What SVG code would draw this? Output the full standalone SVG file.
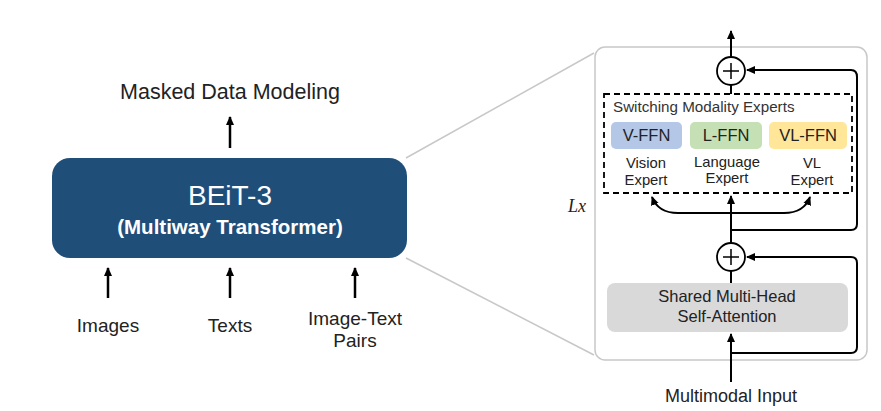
<svg xmlns="http://www.w3.org/2000/svg" width="881" height="411" viewBox="0 0 881 411">
<style>
.t{font-family:"Liberation Sans",Arial,sans-serif;fill:#222;text-anchor:middle}
.ln{fill:none;stroke:#000;stroke-width:2}
.big{fill:none;stroke:#000;stroke-width:2.5}
.gray{fill:none;stroke:#c8c8c8;stroke-width:1.5}
</style>
<defs>
<marker id="ah" markerUnits="userSpaceOnUse" markerWidth="10" markerHeight="10" refX="8" refY="5" orient="auto">
<path d="M0,1 L9,5 L0,9 Z" fill="#000"/>
</marker>
</defs>
<rect width="881" height="411" fill="#fff"/>

<g id="zoom-lines">
<line class="gray" x1="406" y1="158" x2="594" y2="53"/>
<line class="gray" x1="406" y1="258" x2="594" y2="355"/>
</g>

<g id="beit3">
<rect x="52" y="158" width="355" height="100" rx="18" fill="#1f4e79"/>
<text class="t" x="230" y="205" font-size="28" style="fill:#fff">BEiT-3</text>
<text class="t" x="230" y="234" font-size="20.5" font-weight="bold" style="fill:#fff">(Multiway Transformer)</text>
</g>

<g id="mdm"><text class="t" x="230" y="99" font-size="21.5">Masked Data Modeling</text></g>
<g id="images"><text class="t" x="108" y="332" font-size="19">Images</text></g>
<g id="texts"><text class="t" x="230" y="332" font-size="19">Texts</text></g>
<g id="pairs"><text class="t" x="355" y="325" font-size="19">Image-Text</text><text class="t" x="355" y="347" font-size="19">Pairs</text></g>

<g id="panel">
<rect x="595" y="47" width="272" height="313" rx="10" fill="#fff" stroke="#c8c8c8" stroke-width="1.5"/>
</g>
<g id="lx"><text x="568" y="212" font-family="Liberation Serif,serif" font-style="italic" font-size="18" fill="#222">Lx</text></g>

<g id="plus-top">
<circle cx="731" cy="71" r="14" fill="#fff" stroke="#000" stroke-width="1.8"/>
<path d="M723 71 H739 M731 63 V79" stroke="#000" stroke-width="1.5"/>
</g>
<g id="plus-bottom">
<circle cx="731" cy="257" r="14" fill="#fff" stroke="#000" stroke-width="1.8"/>
<path d="M723 257 H739 M731 249 V265" stroke="#000" stroke-width="1.5"/>
</g>

<g id="experts">
<rect x="604" y="94" width="248" height="99" fill="none" stroke="#000" stroke-width="1.8" stroke-dasharray="6,4"/>
<text x="613" y="112" font-family="Liberation Sans,Arial,sans-serif" font-size="15.2" fill="#333">Switching Modality Experts</text>
</g>
<g id="vffn">
<rect x="611" y="122" width="71" height="27" rx="5" fill="#b4c7e7"/>
<text class="t" x="646.5" y="141" font-size="16.5">V-FFN</text>
<text class="t" x="646" y="168" font-size="14.8">Vision</text>
<text class="t" x="646" y="185" font-size="14.8">Expert</text>
</g>
<g id="lffn">
<rect x="690" y="122" width="72" height="27" rx="5" fill="#c5e0b4"/>
<text class="t" x="726" y="141" font-size="16.5">L-FFN</text>
<text class="t" x="727" y="167" font-size="14.8">Language</text>
<text class="t" x="727" y="183" font-size="14.8">Expert</text>
</g>
<g id="vlffn">
<rect x="769" y="122" width="78" height="27" rx="5" fill="#ffe699"/>
<text class="t" x="808" y="141" font-size="16.5">VL-FFN</text>
<text class="t" x="812" y="168" font-size="14.8">VL</text>
<text class="t" x="812" y="185" font-size="14.8">Expert</text>
</g>

<g id="attention">
<rect x="607" y="283" width="241" height="49" rx="8" fill="#d9d9d9"/>
<text class="t" x="727" y="302" font-size="16.5">Shared Multi-Head</text>
<text class="t" x="727" y="322" font-size="16.5">Self-Attention</text>
</g>
<g id="input"><text class="t" x="731" y="402" font-size="18">Multimodal Input</text></g>

<g id="connectors">
<line class="big" x1="230" y1="148" x2="230" y2="117" marker-end="url(#ah)"/>
<line class="big" x1="108" y1="298" x2="108" y2="268" marker-end="url(#ah)"/>
<line class="big" x1="230" y1="298" x2="230" y2="268" marker-end="url(#ah)"/>
<line class="big" x1="355" y1="298" x2="355" y2="268" marker-end="url(#ah)"/>

<line class="ln" x1="731" y1="57" x2="731" y2="31" marker-end="url(#ah)"/>
<line class="ln" x1="731" y1="85" x2="731" y2="94"/>
<line class="ln" x1="731" y1="243" x2="731" y2="196" marker-end="url(#ah)"/>
<path class="ln" d="M731 213 H678 Q658 213 652 197" marker-end="url(#ah)"/>
<path class="ln" d="M731 213 H784 Q804 213 810 197" marker-end="url(#ah)"/>
<path class="ln" d="M731 230 H851 Q857 230 857 224 V77 Q857 70 851 70 H747" marker-end="url(#ah)"/>
<line class="ln" x1="731" y1="283" x2="731" y2="271"/>
<line class="ln" x1="731" y1="382" x2="731" y2="334" marker-end="url(#ah)"/>
<path class="ln" d="M731 353 H851 Q857 353 857 347 V263 Q857 257 851 257 H747" marker-end="url(#ah)"/>
</g>
</svg>
